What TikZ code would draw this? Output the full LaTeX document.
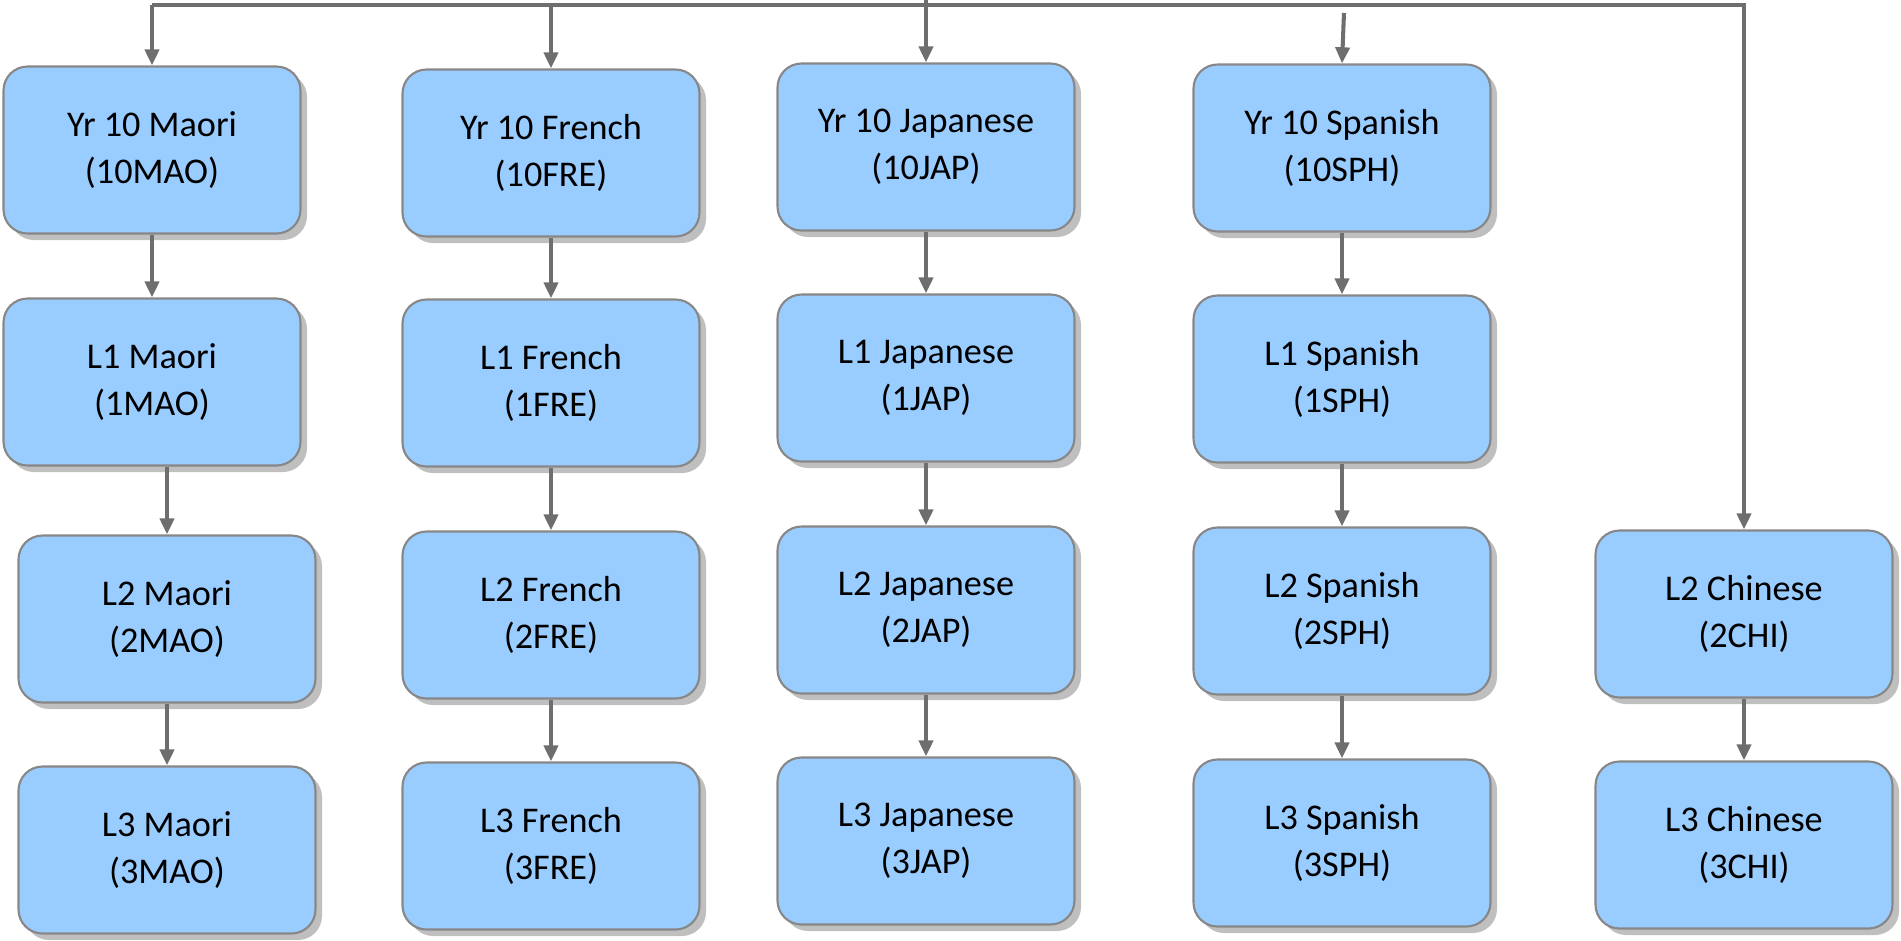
\documentclass[tikz,border=0pt]{standalone}
\usepackage{fontspec}
\setmainfont{Carlito}
\usetikzlibrary{positioning,shadows,arrows.meta}
\definecolor{boxblue}{RGB}{153,204,255}
\definecolor{linegray}{RGB}{110,110,110}
\definecolor{edgegray}{RGB}{135,135,135}
\tikzset{>={Triangle[length=4.6pt,width=4pt]}}
\tikzset{
  course/.style={draw=edgegray, line width=0.6pt, fill=boxblue,
    rounded corners=0.24cm, minimum width=2.97cm, minimum height=1.67cm,
    align=center, font=\fontsize{10.3}{13.4}\selectfont,
    drop shadow={shadow xshift=0.065cm, shadow yshift=-0.065cm, fill=black!25, opacity=1}},
  link/.style={->, draw=linegray, line width=1.15pt}
}

\begin{document}
\begin{tikzpicture}
  \useasboundingbox (0,0) rectangle (19.01,-9.40);
  % Maori
  \node[course] (m10) at (1.52,-1.50) {Yr 10 Maori\\(10MAO)};
  \node[course] (m1) at (1.52,-3.82) {L1 Maori\\(1MAO)};
  \node[course] (m2) at (1.67,-6.19) {L2 Maori\\(2MAO)};
  \node[course] (m3) at (1.67,-8.50) {L3 Maori\\(3MAO)};
  % French
  \node[course] (f10) at (5.51,-1.53) {Yr 10 French\\(10FRE)};
  \node[course] (f1) at (5.51,-3.83) {L1 French\\(1FRE)};
  \node[course] (f2) at (5.51,-6.15) {L2 French\\(2FRE)};
  \node[course] (f3) at (5.51,-8.46) {L3 French\\(3FRE)};
  % Japanese
  \node[course] (j10) at (9.26,-1.47) {Yr 10 Japanese\\(10JAP)};
  \node[course] (j1) at (9.26,-3.78) {L1 Japanese\\(1JAP)};
  \node[course] (j2) at (9.26,-6.10) {L2 Japanese\\(2JAP)};
  \node[course] (j3) at (9.26,-8.41) {L3 Japanese\\(3JAP)};
  % Spanish
  \node[course] (s10) at (13.42,-1.48) {Yr 10 Spanish\\(10SPH)};
  \node[course] (s1) at (13.42,-3.79) {L1 Spanish\\(1SPH)};
  \node[course] (s2) at (13.42,-6.11) {L2 Spanish\\(2SPH)};
  \node[course] (s3) at (13.42,-8.43) {L3 Spanish\\(3SPH)};
  % Chinese
  \node[course] (c2) at (17.44,-6.14) {L2 Chinese\\(2CHI)};
  \node[course] (c3) at (17.44,-8.45) {L3 Chinese\\(3CHI)};

  % top feed
  \coordinate (topL) at (1.52,-0.05);
  \coordinate (topJ) at (9.26,0);
  \coordinate (stray) at (13.44,-0.13);
  \draw[link] (topL) -| (c2.north);
  \draw[link] (topL) -- (m10.north);
  \draw[link] (f10.north |- topL) -- (f10.north);
  \draw[link] (topJ) -- (j10.north);
  \draw[link] (stray) -- (s10.north);

  % level steps
  \foreach \a/\b in {m10/m1, m1/m2, m2/m3, f10/f1, f1/f2, f2/f3,
                     j10/j1, j1/j2, j2/j3, s10/s1, s1/s2, s2/s3, c2/c3}
    \draw[link] (\a.south -| \b.north) -- (\b.north);
\end{tikzpicture}
\end{document}
